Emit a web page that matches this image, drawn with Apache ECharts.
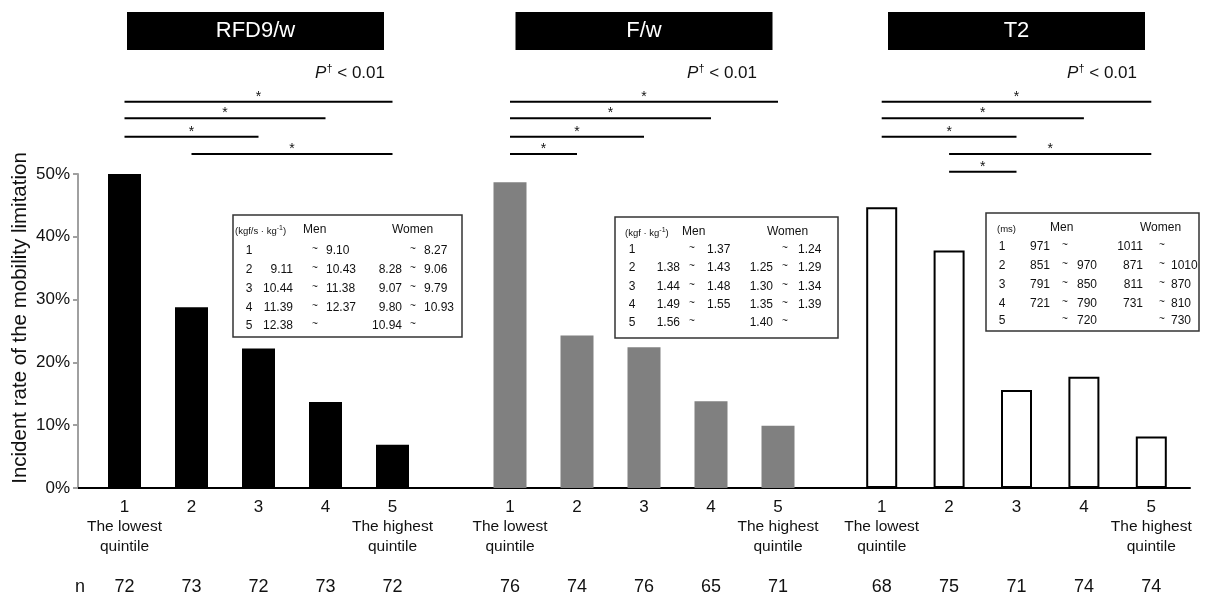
<!DOCTYPE html>
<html><head><meta charset="utf-8">
<script src="https://cdn.jsdelivr.net/npm/echarts@6/dist/echarts.min.js"></script>
<style>html,body{margin:0;padding:0;background:#fff}#c{width:1206px;height:597px}</style>
</head><body><div id="c"></div>
<script>
// ---------- data ----------
const panels = ['RFD9/w', 'F/w', 'T2'];
const categories = ['1', '2', '3', '4', '5'];
const lowLabel = ['The lowest', 'quintile'];
const highLabel = ['The highest', 'quintile'];
const rfdValues = [50.0, 28.8, 22.2, 13.7, 6.9];
const fwValues = [48.7, 24.3, 22.4, 13.8, 9.9];
const t2Values = [44.7, 37.8, 15.6, 17.7, 8.2];
const rfdN = ['72', '73', '72', '73', '72'];
const fwN = ['76', '74', '76', '65', '71'];
const t2N = ['68', '75', '71', '74', '74'];
const yMin = 0, yMax = 50, yStep = 10;
const yAxisName = 'Incident rate of the mobility limitation';
const nLabel = 'n';
const sigRFD = [[1, 5], [1, 4], [1, 3], [2, 5]];
const sigFW = [[1, 5], [1, 4], [1, 3], [1, 2]];
const sigT2 = [[1, 5], [1, 4], [1, 3], [2, 5], [2, 3]];
const pValueText = ['P', '†', ' < 0.01'];
const tableHead = ['Men', 'Women'];
const unitRFD = ['(kgf/s · kg', '-1', ')'];
const unitFW = ['(kgf · kg', '-1', ')'];
const unitT2 = ['(ms)', '', ''];
const rowsRFD = [
  ['1', '', '9.10', '', '8.27'],
  ['2', '9.11', '10.43', '8.28', '9.06'],
  ['3', '10.44', '11.38', '9.07', '9.79'],
  ['4', '11.39', '12.37', '9.80', '10.93'],
  ['5', '12.38', '', '10.94', '']
];
const rowsFW = [
  ['1', '', '1.37', '', '1.24'],
  ['2', '1.38', '1.43', '1.25', '1.29'],
  ['3', '1.44', '1.48', '1.30', '1.34'],
  ['4', '1.49', '1.55', '1.35', '1.39'],
  ['5', '1.56', '', '1.40', '']
];
const rowsT2 = [
  ['1', '971', '', '1011', ''],
  ['2', '851', '970', '871', '1010'],
  ['3', '791', '850', '811', '870'],
  ['4', '721', '790', '731', '810'],
  ['5', '', '720', '', '730']
];

// ---------- style / layout ----------
const FONT = '"Liberation Sans", Arial, Helvetica, sans-serif';
const TXT = '#111';
const gridTop = 174, gridH = 314;
const gridsX = [[91, 335], [476.5, 335], [848, 337]];
const barColors = ['#000000', '#808080', '#ffffff'];
const allValues = [rfdValues, fwValues, t2Values];
const allN = [rfdN, fwN, t2N];

const chart = echarts.init(document.getElementById('c'));

const grid = gridsX.map(g => ({left: g[0], width: g[1], top: gridTop, height: gridH}));
grid.push({left: 78, width: 1112, top: gridTop, height: gridH});

const xAxis = [];
const yAxis = [];
for (let i = 0; i < 3; i++) {
  xAxis.push({
    type: 'category', gridIndex: i, data: categories,
    axisLine: {show: false}, axisTick: {show: false},
    axisLabel: {
      interval: 0, margin: 9,
      formatter: (v, idx) => {
        if (idx === 0) return '{n|' + v + '}\n{s|' + lowLabel[0] + '}\n{s|' + lowLabel[1] + '}';
        if (idx === 4) return '{n|' + v + '}\n{s|' + highLabel[0] + '}\n{s|' + highLabel[1] + '}';
        return '{n|' + v + '}';
      },
      rich: {
        n: {fontFamily: FONT, fontSize: 17, color: TXT, lineHeight: 20},
        s: {fontFamily: FONT, fontSize: 15.5, color: TXT, lineHeight: 20}
      }
    }
  });
  yAxis.push({type: 'value', gridIndex: i, min: yMin, max: yMax, interval: yStep, show: false});
}
for (let i = 0; i < 3; i++) {
  xAxis.push({
    type: 'category', gridIndex: i, data: allN[i], position: 'bottom', offset: 82,
    axisLine: {show: false}, axisTick: {show: false},
    axisLabel: {interval: 0, margin: 8, fontFamily: FONT, fontSize: 18, color: TXT}
  });
}
// overlay axis: continuous baseline + visible y axis
xAxis.push({
  type: 'category', gridIndex: 3, data: [''],
  axisLine: {show: true, lineStyle: {color: '#000', width: 2}},
  axisTick: {show: false}, axisLabel: {show: false}
});
yAxis.push({
  type: 'value', gridIndex: 3, min: yMin, max: yMax, interval: yStep,
  axisLine: {show: true, lineStyle: {color: '#a0a0a0', width: 2}},
  axisTick: {show: true, length: 5, lineStyle: {color: '#a0a0a0', width: 2}},
  splitLine: {show: false},
  axisLabel: {formatter: '{value}%', fontFamily: FONT, fontSize: 17, color: TXT, margin: 8}
});

const series = allValues.map((vals, i) => ({
  type: 'bar', xAxisIndex: i, yAxisIndex: i, data: vals,
  barWidth: i === 2 ? 31 : 33,
  itemStyle: i === 2 ? {color: '#fff', borderColor: '#000', borderWidth: 2} : {color: barColors[i]},
  silent: true
}));

chart.setOption({
  animation: false, backgroundColor: '#fff',
  grid, xAxis, yAxis, series
});

// ---------- annotations ----------
const g = [];
const px = (gi, cat) => chart.convertToPixel({xAxisIndex: gi}, cat);

// y axis name
g.push({type: 'text', x: 20, y: 318, rotation: Math.PI / 2,
  style: {text: yAxisName, font: '20.5px ' + FONT, fill: TXT, align: 'center', verticalAlign: 'middle'}});
// n label
g.push({type: 'text', x: 80, y: 587,
  style: {text: nLabel, font: '18px ' + FONT, fill: TXT, align: 'center', verticalAlign: 'middle'}});

// headers
panels.forEach((name, gi) => {
  const cx = px(gi, categories[2]) - (gi === 0 ? 3 : 0);
  g.push({type: 'rect', shape: {x: cx - 128.5, y: 12, width: 257, height: 38}, style: {fill: '#000'}});
  g.push({type: 'text', x: cx, y: 31,
    style: {text: name, font: '22px ' + FONT, fill: '#fff', align: 'center', verticalAlign: 'middle'}});
});

// P-value text
[385, 757, 1137].forEach(xr => {
  g.push({type: 'text', x: xr, y: 73, style: {
    text: '{i|' + pValueText[0] + '}{d|' + pValueText[1] + '}{r|' + pValueText[2] + '}',
    align: 'right', verticalAlign: 'middle',
    rich: {
      i: {fontFamily: FONT, fontSize: 17, fontStyle: 'italic', fill: TXT, lineHeight: 20},
      d: {fontFamily: FONT, fontSize: 11, fill: TXT, verticalAlign: 'top', lineHeight: 20, padding: [0, 0, 6, 0]},
      r: {fontFamily: FONT, fontSize: 17, fill: TXT, lineHeight: 20}
    }
  }});
});

// significance lines
const sigRows = [101.7, 118.3, 136.7, 154, 171.7];
[sigRFD, sigFW, sigT2].forEach((pairs, gi) => {
  pairs.forEach((p, r) => {
    const x1 = px(gi, categories[p[0] - 1]);
    const x2 = px(gi, categories[p[1] - 1]);
    const y = sigRows[r];
    g.push({type: 'line', shape: {x1: x1, y1: y, x2: x2, y2: y}, style: {stroke: '#000', lineWidth: 2}});
    g.push({type: 'text', x: (x1 + x2) / 2, y: y - 5,
      style: {text: '*', font: '14px ' + FONT, fill: TXT, align: 'center', verticalAlign: 'middle'}});
  });
});

// inset tables
function addTable(box, headY, rowYs, cols, unit, unitX, menX, womenX, rows) {
  g.push({type: 'rect', shape: {x: box[0], y: box[1], width: box[2], height: box[3]},
    style: {fill: '#fff', stroke: '#333', lineWidth: 1.5}});
  g.push({type: 'text', x: unitX, y: headY + 1, style: {
    text: '{a|' + unit[0] + '}' + (unit[1] ? '{b|' + unit[1] + '}' : '') + (unit[2] ? '{a|' + unit[2] + '}' : ''),
    align: 'left', verticalAlign: 'middle',
    rich: {a: {fontFamily: FONT, fontSize: 9.5, fill: TXT, lineHeight: 12},
           b: {fontFamily: FONT, fontSize: 7, fill: TXT, verticalAlign: 'top', lineHeight: 12}}
  }});
  g.push({type: 'text', x: menX, y: headY, style: {text: tableHead[0], font: '12px ' + FONT, fill: TXT, align: 'left', verticalAlign: 'middle'}});
  g.push({type: 'text', x: womenX, y: headY, style: {text: tableHead[1], font: '12px ' + FONT, fill: TXT, align: 'left', verticalAlign: 'middle'}});
  rows.forEach((row, ri) => {
    const y = rowYs[ri];
    const cells = [
      [row[0], cols[0], 'center'],
      [row[1], cols[1], 'right'],
      ['~', cols[2], 'center'],
      [row[2], cols[3], 'left'],
      [row[3], cols[4], 'right'],
      ['~', cols[5], 'center'],
      [row[4], cols[6], 'left']
    ];
    cells.forEach(c => {
      if (!c[0]) return;
      g.push({type: 'text', x: c[1], y: c[0] === '~' ? y - 2 : y,
        style: {text: c[0], font: (c[0] === '~' ? '10px ' : '12px ') + FONT, fill: TXT, align: c[2], verticalAlign: 'middle'}});
    });
  });
}
addTable([233, 215, 229, 122], 230, [251, 270, 289, 308, 326],
  [249, 293, 315, 326, 402, 413, 424], unitRFD, 235, 303, 392, rowsRFD);
addTable([615, 217, 223, 121], 232, [250, 268, 287, 305, 323],
  [632, 680, 692, 707, 773, 785, 798], unitFW, 625, 682, 767, rowsFW);
addTable([986, 213, 213, 118], 228, [247, 266, 285, 304, 321],
  [1002, 1050, 1065, 1077, 1143, 1162, 1171], unitT2, 997, 1050, 1140, rowsT2);

chart.setOption({graphic: g});
</script>
</body></html>
